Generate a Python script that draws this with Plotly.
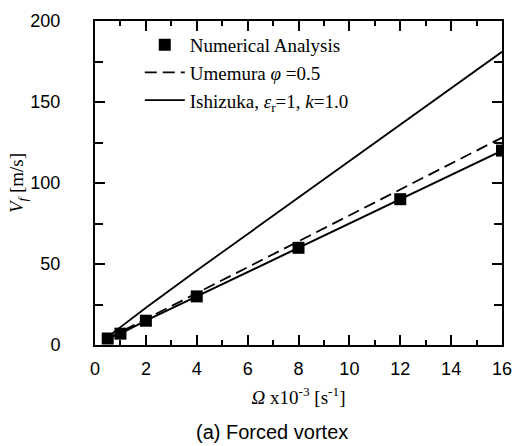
import plotly.graph_objects as go

omega_num = [0.5, 1, 2, 4, 8, 12, 16]
vf_num = [4, 7, 15, 30, 60, 90, 120]

omega_ume = [0.5, 1, 2, 4, 8, 12, 16]
vf_ume = [4, 8, 16, 32, 64, 96, 128]

omega_ish = [0.5, 1, 2, 4, 8, 12, 16]
vf_ish = [5, 11, 23, 46, 91, 136, 181]

serif = "Liberation Serif"
sans = "Liberation Sans"

fig = go.Figure()
fig.add_trace(go.Scatter(x=omega_num, y=vf_num, mode="lines",
                         line=dict(color="black", width=2), showlegend=False))
fig.add_trace(go.Scatter(x=omega_num, y=vf_num, mode="markers",
                         marker=dict(symbol="square", size=12, color="black"),
                         name="Numerical Analysis"))
fig.add_trace(go.Scatter(x=omega_ume, y=vf_ume, mode="lines",
                         line=dict(color="black", width=1.8, dash="12px,6px"),
                         name="Umemura <i>φ</i> =0.5"))
fig.add_trace(go.Scatter(x=omega_ish, y=vf_ish, mode="lines",
                         line=dict(color="black", width=1.8),
                         name="Ishizuka, <i>ε</i><sub>r</sub>=1, <i>k</i>=1.0"))

axis_common = dict(showline=True, linecolor="black", linewidth=2, mirror="ticks",
                   ticks="inside", tickcolor="black", showgrid=False, zeroline=False,
                   tickfont=dict(family=sans, size=18, color="black"))

fig.update_layout(
    width=523, height=446,
    margin=dict(l=95, r=11, t=16, b=101),
    plot_bgcolor="white", paper_bgcolor="white",
    xaxis=dict(range=[0, 16], tickvals=[0, 2, 4, 6, 8, 10, 12, 14, 16], ticklen=10,
               tickwidth=1.5, ticklabelstandoff=6,
               minor=dict(dtick=1, ticks="inside", ticklen=5, tickcolor="black"),
               title=dict(text="<i>Ω</i> x10<sup>-3</sup> [s<sup>-1</sup>]",
                          font=dict(family=serif, size=19, color="black"), standoff=13),
               **axis_common),
    yaxis=dict(range=[0, 200], tickvals=[0, 50, 100, 150, 200], ticklen=10,
               tickwidth=1.5, ticklabelstandoff=29,
               minor=dict(dtick=25, ticks="inside", ticklen=8, tickcolor="black"),
               title=dict(text="<i>V<sub>f</sub></i> [m/s]",
                          font=dict(family=serif, size=19, color="black"), standoff=2),
               **axis_common),
    legend=dict(x=0.11, y=0.985, xanchor="left", yanchor="top", bgcolor="rgba(0,0,0,0)",
                font=dict(family=serif, size=19, color="black"), itemwidth=40,
                tracegroupgap=4),
    annotations=[dict(text="(a) Forced vortex", x=0.435, y=-0.27, xref="paper", yref="paper",
                      showarrow=False, xanchor="center", yanchor="middle",
                      font=dict(family=sans, size=20, color="black"))],
)

fig.write_html("out.html")
